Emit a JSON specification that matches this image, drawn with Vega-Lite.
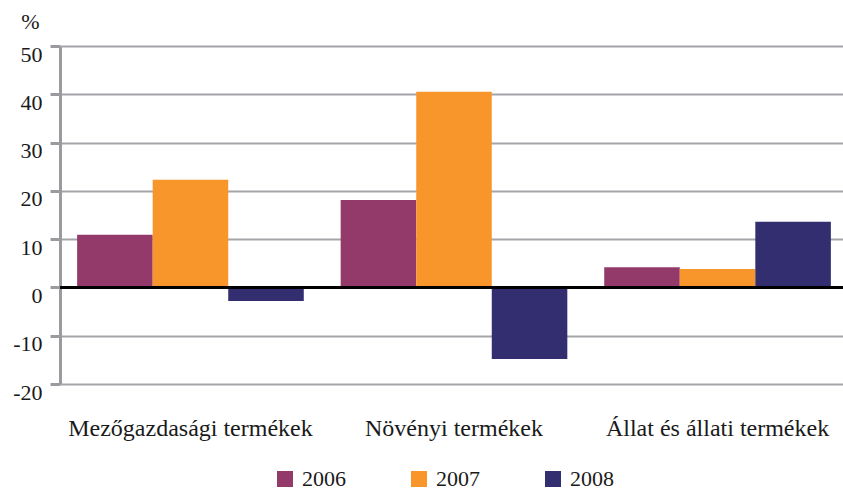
{
  "$schema": "https://vega.github.io/schema/vega-lite/v6.json",
  "width": 788,
  "height": 338,
  "autosize": {"type": "none"},
  "padding": {"left": 60, "top": 46, "right": 0, "bottom": 106},
  "background": "white",
  "config": {
    "font": "'Liberation Serif', 'DejaVu Serif', serif",
    "view": {"stroke": null}
  },
  "data": {
    "values": [
      {"cat": "Mezőgazdasági termékek", "year": "2006", "value": 10.9},
      {"cat": "Mezőgazdasági termékek", "year": "2007", "value": 22.3},
      {"cat": "Mezőgazdasági termékek", "year": "2008", "value": -2.8},
      {"cat": "Növényi termékek", "year": "2006", "value": 18.1},
      {"cat": "Növényi termékek", "year": "2007", "value": 40.5},
      {"cat": "Növényi termékek", "year": "2008", "value": -14.8},
      {"cat": "Állat és állati termékek", "year": "2006", "value": 4.2},
      {"cat": "Állat és állati termékek", "year": "2007", "value": 3.8},
      {"cat": "Állat és állati termékek", "year": "2008", "value": 13.6}
    ]
  },
  "layer": [
    {
      "mark": {"type": "bar"},
      "encoding": {
        "x": {
          "field": "cat", "type": "nominal", "sort": null,
          "scale": {"paddingInner": 0.14, "paddingOuter": 0.065},
          "axis": {
            "title": null, "labelAngle": 0, "domain": false, "ticks": false,
            "labelFontSize": 24, "labelColor": "#1a1a1a", "labelPadding": 44,
            "labelBaseline": "middle", "labelLimit": 0
          }
        },
        "xOffset": {"field": "year", "type": "nominal", "scale": {"paddingInner": 0, "paddingOuter": 0}},
        "y": {
          "field": "value", "type": "quantitative",
          "scale": {"domain": [-20, 50], "nice": false},
          "axis": {
            "values": [-20, -10, 0, 10, 20, 30, 40, 50],
            "labelExpr": "toString(datum.value)",
            "title": "%", "titleAngle": 0, "titleX": -30, "titleY": -18,
            "titleAlign": "center", "titleBaseline": "alphabetic",
            "titleFontSize": 22, "titleFontWeight": "normal", "titleColor": "#1a1a1a",
            "labelFontSize": 22, "labelColor": "#1a1a1a", "labelPadding": 8, "labelOffset": 8,
            "labelBound": false, "labelFlush": false,
            "domainColor": "#9a9b9f", "domainWidth": 3,
            "tickColor": "#9a9b9f", "tickWidth": 3, "tickSize": 10,
            "grid": true, "gridColor": "#a4a5a8", "gridWidth": 2
          }
        },
        "color": {
          "field": "year", "type": "nominal",
          "scale": {"domain": ["2006", "2007", "2008"], "range": ["#943a6b", "#f9962b", "#322e70"]},
          "legend": {
            "title": null, "orient": "none", "direction": "horizontal",
            "legendX": 214, "legendY": 422,
            "symbolType": "square", "symbolSize": 256, "symbolStrokeWidth": 0,
            "labelFontSize": 22, "labelColor": "#1a1a1a", "labelOffset": 6,
            "columnPadding": 62
          }
        }
      }
    },
    {
      "mark": {"type": "rule", "color": "black", "strokeWidth": 3},
      "encoding": {"y": {"datum": 0, "type": "quantitative"}}
    }
  ]
}
